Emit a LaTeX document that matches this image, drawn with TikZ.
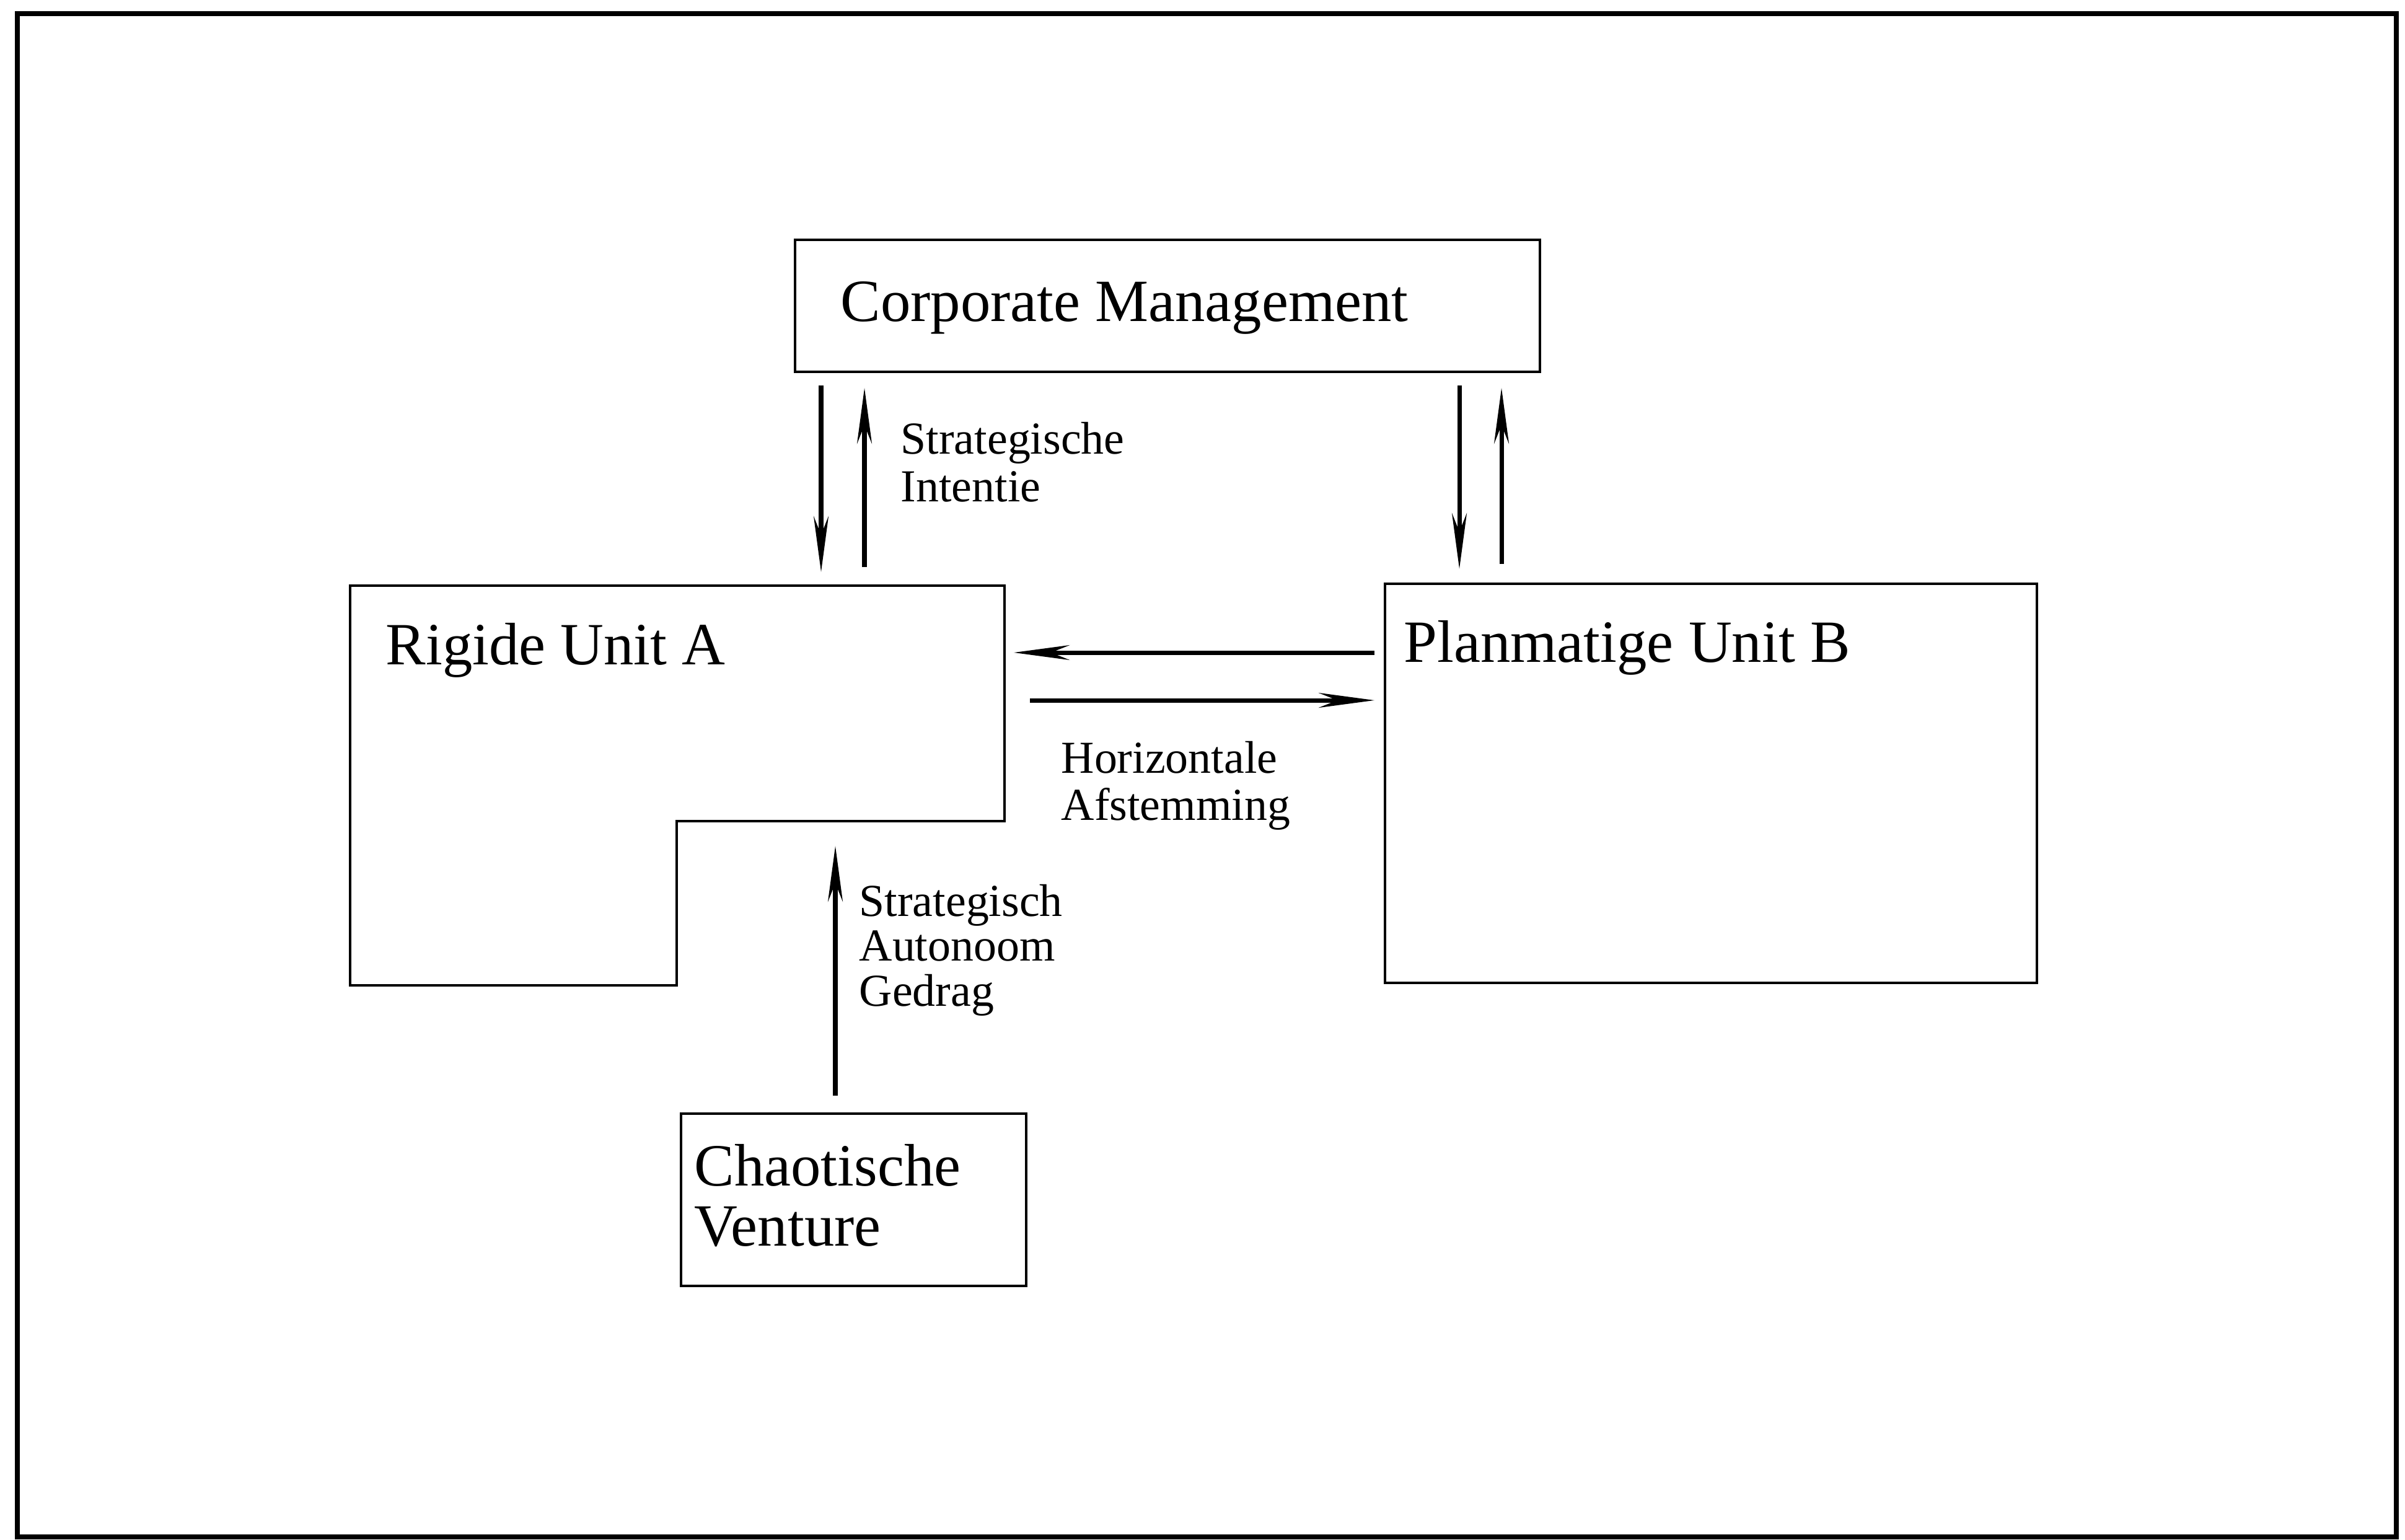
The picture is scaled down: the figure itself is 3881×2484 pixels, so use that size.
\documentclass[tikz,border=0pt]{standalone}
\usepackage{fontspec}
\setmainfont{Liberation Serif}
\usetikzlibrary{arrows.meta}

\tikzset{
  unitbox/.style={draw, line width=1.1pt, inner sep=0pt, anchor=north west},
  boxtext/.style={anchor=base west, inner sep=0pt, font=\fontsize{27.5pt}{27.6pt}\selectfont},
  flowtext/.style={anchor=base west, inner sep=0pt, font=\fontsize{21pt}{22pt}\selectfont},
  flow/.style={line width=2pt, -{Stealth[length=9mm, width=2.4mm, inset=3mm]}}
}

\begin{document}
\begin{tikzpicture}[x=0.01cm, y=-0.01cm]
  \useasboundingbox (0,0) rectangle (3881,2484);

  % outer frame
  \draw[line width=2.3pt] (28,22) rectangle (3867,2480);

  % rectangular units
  \node[unitbox, minimum width=12.01cm, minimum height=2.13cm] (cm) at (1281,385) {};
  \node[unitbox, minimum width=10.51cm, minimum height=6.44cm] (unitb) at (2233,940) {};
  \node[unitbox, minimum width=5.57cm, minimum height=2.78cm] (venture) at (1097,1795) {};

  % L-shaped unit A
  \coordinate (aNW) at (565,945);
  \coordinate (aNE) at (1621,945);
  \coordinate (aStepR) at (1621,1325);
  \coordinate (aStepL) at (1092,1325);
  \coordinate (aSE) at (1092,1590);
  \coordinate (aSW) at (565,1590);
  \draw[line width=1.1pt] (aNW) -- (aNE) -- (aStepR) -- (aStepL) -- (aSE) -- (aSW) -- cycle;

  % unit names
  \node[boxtext] (cmtext) at (1356,518) {Corporate Management};
  \node[boxtext] (atext) at (622,1072) {Rigide Unit A};
  \node[boxtext] (btext) at (2265,1068) {Planmatige Unit B};
  \node[boxtext] (vtext1) at (1120,1913) {Chaotische};
  \node[boxtext] (vtext2) at (1120,2010) {Venture};

  % flow labels
  \node[flowtext] (si1) at (1453,732) {Strategische};
  \node[flowtext] (si2) at (1453,809) {Intentie};
  \node[flowtext] (ha1) at (1712,1247) {Horizontale};
  \node[flowtext] (ha2) at (1712,1323) {Afstemming};
  \node[flowtext] (sa1) at (1386,1478) {Strategisch};
  \node[flowtext] (sa2) at (1386,1550) {Autonoom};
  \node[flowtext] (sa3) at (1386,1623) {Gedrag};

  % vertical flows between corporate management and the units
  \draw[flow] ([shift={(44,20)}]cm.south west) -- ([shift={(760,-22)}]aNW);
  \draw[flow] ([shift={(830,-30)}]aNW) -- ([shift={(114,24)}]cm.south west);
  \draw[flow] ([shift={(1074,20)}]cm.south west) -- ([shift={(122,-22)}]unitb.north west);
  \draw[flow] ([shift={(190,-30)}]unitb.north west) -- ([shift={(1142,24)}]cm.south west);

  % horizontal alignment between the units
  \draw[flow] ([shift={(-15,113)}]unitb.north west) -- ([shift={(15,108)}]aNE);
  \draw[flow] ([shift={(41,185)}]aNE) -- ([shift={(-15,190)}]unitb.north west);

  % autonomous behaviour from the venture
  \draw[flow] ([shift={(251,-27)}]venture.north west) -- ([shift={(256,40)}]aStepL);
\end{tikzpicture}
\end{document}
